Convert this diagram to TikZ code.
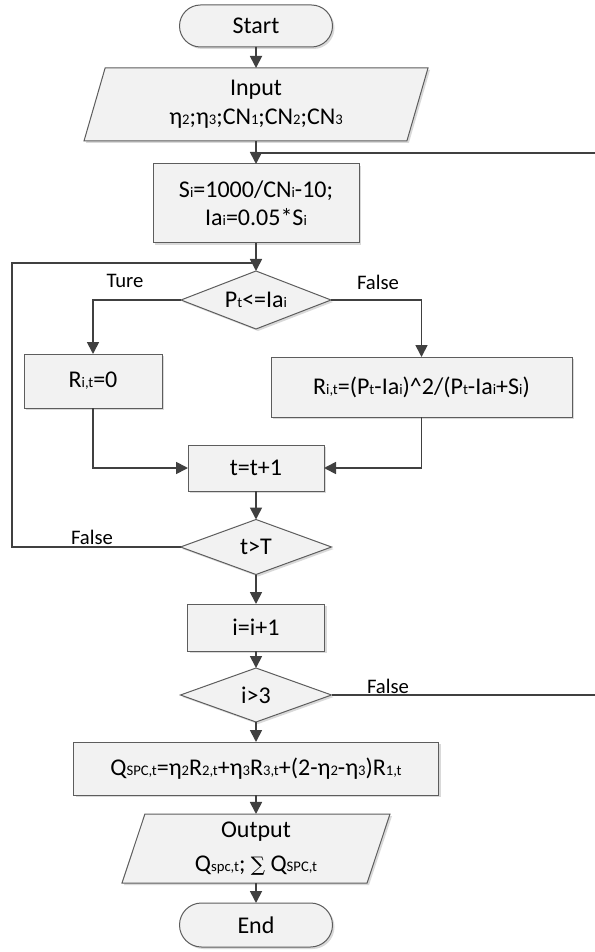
\documentclass[tikz,border=0pt]{standalone}
\usepackage{fontspec}
\setmainfont{Carlito}
\newfontfamily\sumfont{DejaVu Serif}
\usetikzlibrary{shapes.geometric,shapes.misc,arrows.meta,shadows}
\definecolor{boxfill}{HTML}{F2F2F2}
\definecolor{edge}{HTML}{404040}
\newcommand\lo[1]{{\fontsize{11pt}{11pt}\selectfont #1}}
\tikzset{
	chartbox/.style={draw=edge!85, line width=.75pt, fill=boxfill, inner sep=0pt, outer sep=0pt, align=center,
		font=\fontsize{18pt}{21pt}\selectfont, drop shadow={shadow xshift=1.5pt, shadow yshift=-1.5pt, fill=black!15, opacity=1}},
	procbox/.style={chartbox, rectangle},
	termbox/.style={chartbox, rounded rectangle},
	iobox/.style={chartbox, trapezium, trapezium left angle=66.5, trapezium right angle=113.5, trapezium stretches body},
	testbox/.style={chartbox, diamond},
	arrowline/.style={draw=edge, line width=1.3pt, -{Triangle[length=9pt,width=9pt]}},
	plainline/.style={draw=edge, line width=1.3pt},
	lbl/.style={font=\fontsize{15.5pt}{18pt}\selectfont, inner sep=0pt}
}
\begin{document}
\begin{tikzpicture}[x=.75pt,y=-.75pt]
		\path[use as bounding box, fill=white] (0,0) rectangle (595,952);
		
		\node[termbox, minimum width=114.75pt, minimum height=31.5pt] (start) at (256,26) {Start};
		\node[iobox, minimum width=258pt, minimum height=54.75pt] (input) at (256,104.5) {Input\\[1pt]η\lo{2};η\lo{3};CN\lo{1};CN\lo{2};CN\lo{3}};
		\node[procbox, minimum width=154.5pt, minimum height=59.25pt] (si) at (256,203.5) {S\lo{i}=1000/CN\lo{i}-10;\\Ia\lo{i}=0.05*S\lo{i}};
		\node[testbox, aspect=2.59, minimum width=112.5pt, minimum height=43.5pt] (d1) at (256,300) {P\lo{t}<=Ia\lo{i}};
		\node[procbox, minimum width=103.5pt, minimum height=40.5pt] (r0) at (93,381) {R\lo{i,t}=0};
		\node[procbox, minimum width=225.75pt, minimum height=45pt] (r1) at (421.5,387) {R\lo{i,t}=(P\lo{t}-Ia\lo{i})\textasciicircum 2/(P\lo{t}-Ia\lo{i}+S\lo{i})};
		\node[procbox, minimum width=102pt, minimum height=34.5pt] (tt) at (256,468) {t=t+1};
		\node[testbox, aspect=2.75, minimum width=113.25pt, minimum height=41.25pt] (dT) at (256,547) {t>T};
		\node[procbox, minimum width=102.75pt, minimum height=35.25pt] (ii) at (256,627.5) {i=i+1};
		\node[testbox, aspect=2.8, minimum width=113.25pt, minimum height=40.5pt] (dI) at (256,695) {i>3};
		\node[procbox, minimum width=273.75pt, minimum height=39.75pt] (q) at (256,768.5) {Q\lo{SPC,t}=η\lo{2}R\lo{2,t}+η\lo{3}R\lo{3,t}+(2-η\lo{2}-η\lo{3})R\lo{1,t}};
		\node[iobox, minimum width=201pt, minimum height=51.75pt] (out) at (256,848.5) {Output\\[4pt]Q\lo{spc,t}; {\sumfont\fontsize{15pt}{15pt}\selectfont ∑} Q\lo{SPC,t}};
		\node[termbox, minimum width=114.75pt, minimum height=33pt] (end) at (256,925) {End};
		
		\node[lbl] (ture) at (125,281) {Ture};
		\node[lbl] (f1) at (378,282) {False};
		\node[lbl] (f2) at (92,537) {False};
		\node[lbl] (f3) at (388,686) {False};
		
		\coordinate (ledge) at (12,263); \coordinate (lj) at (256,263);
		\coordinate (redge) at (598,153); \coordinate (rj) at (256,153);
		
		\draw[arrowline] (start) -- (input);
		\draw[arrowline] (input) -- (si);
		\draw[arrowline] (si) -- (d1);
		\draw[arrowline] (d1.west) -| (r0.north);
		\draw[arrowline] (d1.east) -| (r1.north);
		\draw[arrowline] (r0.south) |- (tt.west);
		\draw[arrowline] (r1.south) |- (tt.east);
		\draw[arrowline] (tt) -- (dT);
		\draw[arrowline] (dT) -- (ii);
		\draw[arrowline] (ii) -- (dI);
		\draw[arrowline] (dI) -- (q);
		\draw[arrowline] (q) -- (out);
		\draw[arrowline] (out) -- (end);
		\draw[plainline] (dT.west) -| (ledge) -- (lj);
		\draw[plainline] (dI.east) -| (redge) -- (rj);
		
\end{tikzpicture}
\end{document}
